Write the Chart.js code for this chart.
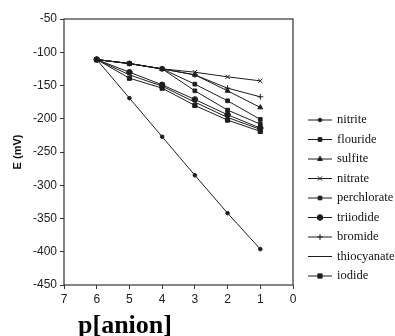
<!DOCTYPE html>
<html>
<head>
<meta charset="utf-8">
<script src="https://cdn.jsdelivr.net/npm/chart.js"></script>
<style>
  body { margin: 0; background: #fff; }
  #wrap { width: 395px; height: 336px; }
</style>
</head>
<body>
<div id="wrap"><canvas id="grafico" width="395" height="336"></canvas></div>
<script>
// p[anion] values and measured potentials (mV)
const pAnion = [6, 5, 4, 3, 2, 1];
const nitrite     = [-111, -169, -227, -285, -342, -396];
const flouride    = [-111, -117, -125, -158, -187, -208];
const sulfite     = [-111, -117, -125, -134, -158, -183];
const nitrate     = [-111, -117, -125, -130, -137, -143];
const perchlorate = [-111, -117, -125, -148, -173, -201];
const triiodide   = [-111, -130, -149, -171, -194, -214];
const bromide     = [-111, -117, -125, -134, -154, -167];
const thiocyanate = [-111, -134, -151, -175, -198, -216];
const iodide      = [-111, -139, -154, -180, -202, -219];

const xTicks = [7, 6, 5, 4, 3, 2, 1, 0];
const yTicks = [-50, -100, -150, -200, -250, -300, -350, -400, -450];

const tinta = '#1e1e1e';

function serie(nombre, valores, estilo, radio) {
  return {
    label: nombre,
    data: pAnion.map((x, i) => ({ x: x, y: valores[i] })),
    borderColor: tinta,
    backgroundColor: tinta,
    borderWidth: 1,
    pointStyle: estilo,
    pointRadius: radio,
    pointBorderWidth: 1,
    tension: 0
  };
}

const datasets = [
  serie('nitrite', nitrite, 'circle', 1.8),
  serie('flouride', flouride, 'rect', 2.6),
  serie('sulfite', sulfite, 'triangle', 2.8),
  serie('nitrate', nitrate, 'crossRot', 3),
  serie('perchlorate', perchlorate, 'rect', 2.6),
  serie('triiodide', triiodide, 'circle', 2.8),
  serie('bromide', bromide, 'cross', 3),
  serie('thiocyanate', thiocyanate, 'circle', 0),
  serie('iodide', iodide, 'rect', 3)
];

// marco completo alrededor del area del grafico
const marco = {
  id: 'marco',
  afterDatasetsDraw(chart) {
    const a = chart.chartArea, ctx = chart.ctx;
    ctx.save();
    ctx.strokeStyle = '#333';
    ctx.lineWidth = 1.2;
    ctx.strokeRect(a.left, a.top, a.right - a.left, a.bottom - a.top);
    ctx.restore();
  }
};

// leyenda a la derecha y titulo del eje x
const extras = {
  id: 'extras',
  afterDraw(chart) {
    const ctx = chart.ctx;
    ctx.save();
    ctx.font = '12.5px "Liberation Serif", "Times New Roman", serif';
    ctx.textBaseline = 'middle';
    ctx.textAlign = 'left';
    chart.data.datasets.forEach((ds, i) => {
      const y = 120 + i * 19.5;
      ctx.strokeStyle = tinta;
      ctx.fillStyle = tinta;
      ctx.lineWidth = 1;
      ctx.beginPath();
      ctx.moveTo(308, y);
      ctx.lineTo(332, y);
      ctx.stroke();
      if (ds.pointRadius > 0) {
        if (Chart.helpers && Chart.helpers.drawPoint) {
          Chart.helpers.drawPoint(ctx, { pointStyle: ds.pointStyle, radius: ds.pointRadius, borderWidth: 1, rotation: 0 }, 320, y);
        } else {
          ctx.beginPath(); ctx.arc(320, y, ds.pointRadius, 0, Math.PI * 2); ctx.fill();
        }
      }
      ctx.fillStyle = '#111';
      ctx.fillText(ds.label, 337, y);
    });
    ctx.font = 'bold 26px "Liberation Serif", "Times New Roman", serif';
    ctx.textAlign = 'center';
    ctx.textBaseline = 'alphabetic';
    ctx.fillStyle = '#000';
    ctx.fillText('p[anion]', 125, 333);
    ctx.restore();
  }
};

var ctx = document.getElementById('grafico').getContext('2d');
var grafico = new Chart(ctx, {
  type: 'line',
  data: { datasets: datasets },
  options: {
    responsive: false,
    animation: false,
    layout: { padding: { top: 19, right: 102, bottom: 0, left: 0 } },
    plugins: { legend: { display: false }, tooltip: { enabled: false } },
    scales: {
      x: {
        type: 'linear',
        reverse: true,
        min: 0,
        max: 7,
        afterFit(scale) { scale.height = 51; },
        afterBuildTicks(scale) { scale.ticks = xTicks.map(v => ({ value: v })); },
        grid: { display: true, drawOnChartArea: false, drawTicks: true, tickLength: 4, color: '#333' },
        border: { display: false },
        ticks: { color: '#222', padding: 3, font: { family: '"Liberation Sans", Arial, sans-serif', size: 12 } }
      },
      y: {
        min: -450,
        max: -50,
        afterFit(scale) { scale.width = 64; },
        afterBuildTicks(scale) { scale.ticks = yTicks.map(v => ({ value: v })); },
        grid: { display: true, drawOnChartArea: false, drawTicks: true, tickLength: 4, color: '#333' },
        border: { display: false },
        ticks: { color: '#222', padding: 3, font: { family: '"Liberation Sans", Arial, sans-serif', size: 12 } },
        title: {
          display: true,
          text: 'E (mV)',
          color: '#111',
          padding: { top: 11, bottom: 0 },
          font: { family: '"Liberation Sans", Arial, sans-serif', size: 11, weight: 'bold' }
        }
      }
    }
  },
  plugins: [marco, extras]
});
</script>
</body>
</html>
